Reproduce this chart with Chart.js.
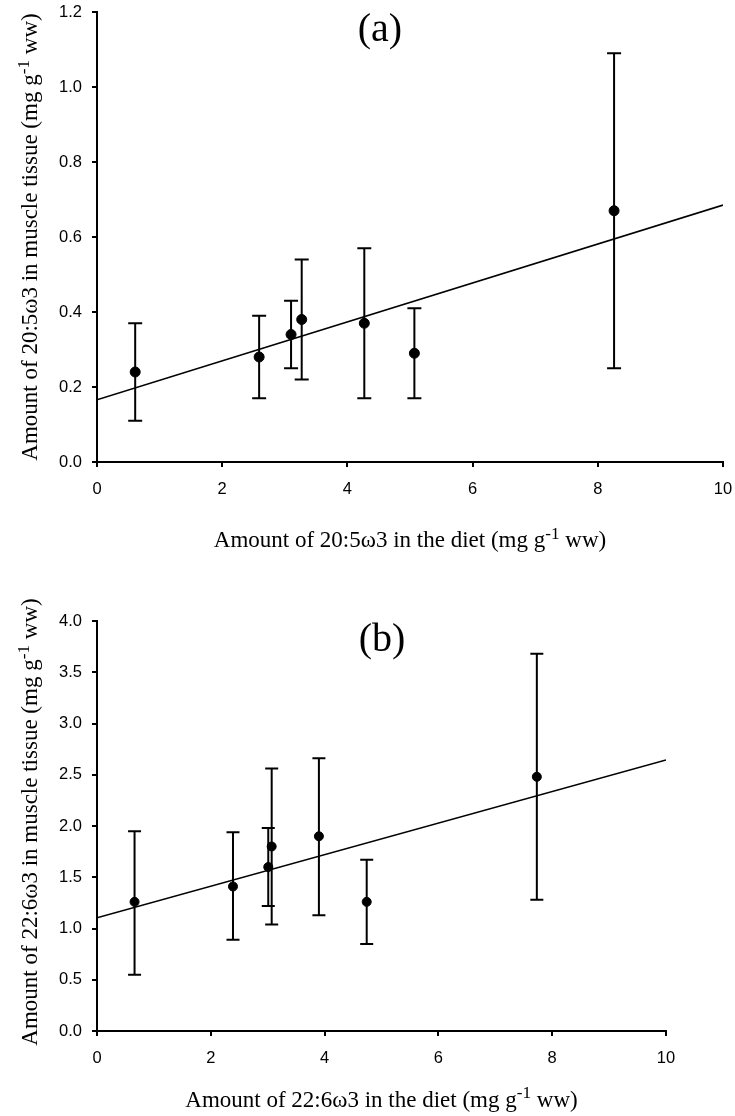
<!DOCTYPE html>
<html>
<head>
<meta charset="utf-8">
<script src="https://cdn.jsdelivr.net/npm/chart.js@4.4.0/dist/chart.umd.min.js"></script>
<style>
  body { margin: 0; background: #fff; }
  canvas { display: block; }
</style>
</head>
<body>
<canvas id="chartA" width="735" height="560"></canvas>
<canvas id="chartB" width="735" height="556"></canvas>
<script>
// Panel (a): 20:5w3 diet vs muscle tissue
const epaDiet   = [0.61, 2.59, 3.10, 3.27, 4.27, 5.07, 8.26];
const epaMuscle = [0.24, 0.28, 0.34, 0.38, 0.37, 0.29, 0.67];
const epaLow    = [0.11, 0.17, 0.25, 0.22, 0.17, 0.17, 0.25];
const epaHigh   = [0.37, 0.39, 0.43, 0.54, 0.57, 0.41, 1.09];
const epaFitX   = [0, 10];
const epaFitY   = [0.166, 0.685];

// Panel (b): 22:6w3 diet vs muscle tissue
const dhaDiet   = [0.66, 2.39, 3.01, 3.07, 3.90, 4.74, 7.73];
const dhaMuscle = [1.26, 1.41, 1.60, 1.80, 1.90, 1.26, 2.48];
const dhaLow    = [0.55, 0.89, 1.22, 1.04, 1.13, 0.85, 1.28];
const dhaHigh   = [1.95, 1.94, 1.98, 2.56, 2.66, 1.67, 3.68];
const dhaFitX   = [0, 10];
const dhaFitY   = [1.105, 2.644];

const tickFont = { family: '"Liberation Sans", Arial, sans-serif', size: 16.5 };
const serif = '"Liberation Serif", "Times New Roman", serif';

// draws vertical error bars with caps from the lo/hi arrays
const errorBarPlugin = {
    id: 'errorBars',
    beforeDatasetsDraw(chart, args, opts) {
        const { ctx, scales: { x, y } } = chart;
        ctx.save();
        ctx.strokeStyle = '#000';
        ctx.lineWidth = 2;
        opts.xs.forEach((xv, i) => {
            const px = x.getPixelForValue(xv);
            const top = y.getPixelForValue(opts.hi[i]);
            const bot = y.getPixelForValue(opts.lo[i]);
            ctx.beginPath();
            ctx.moveTo(px, top); ctx.lineTo(px, bot);
            ctx.moveTo(px - opts.cap, top); ctx.lineTo(px + opts.cap, top);
            ctx.moveTo(px - opts.cap, bot); ctx.lineTo(px + opts.cap, bot);
            ctx.stroke();
        });
        ctx.restore();
    }
};

// panel letter placed in data space
const panelLabelPlugin = {
    id: 'panelLabel',
    afterDraw(chart, args, opts) {
        const { ctx, scales: { x, y } } = chart;
        ctx.save();
        ctx.fillStyle = '#000';
        ctx.font = '40px ' + serif;
        ctx.textAlign = 'center';
        ctx.textBaseline = 'middle';
        ctx.fillText(opts.text, x.getPixelForValue(opts.x), y.getPixelForValue(opts.y));
        ctx.restore();
    }
};

// axis titles with a real superscript "-1"
function drawRich(ctx, parts, size) {
    const supSize = size * 0.75;
    let total = 0;
    parts.forEach(p => {
        ctx.font = (p.sup ? supSize : size) + 'px ' + serif;
        total += ctx.measureText(p.t).width;
    });
    let cx = -total / 2;
    parts.forEach(p => {
        ctx.font = (p.sup ? supSize : size) + 'px ' + serif;
        ctx.fillText(p.t, cx, p.sup ? -size * 0.36 : 0);
        cx += ctx.measureText(p.t).width;
    });
}

const axisTitlePlugin = {
    id: 'axisTitles',
    afterDraw(chart, args, opts) {
        const { ctx, chartArea, height } = chart;
        ctx.save();
        ctx.fillStyle = '#000';
        ctx.textAlign = 'left';
        ctx.textBaseline = 'alphabetic';
        ctx.save();
        ctx.translate((chartArea.left + chartArea.right) / 2, height - opts.xBaseFromBottom);
        drawRich(ctx, opts.x, opts.size);
        ctx.restore();
        ctx.save();
        ctx.translate(opts.yBaseX, (chartArea.top + chartArea.bottom) / 2 + opts.yShift);
        ctx.rotate(-Math.PI / 2);
        drawRich(ctx, opts.y, opts.size);
        ctx.restore();
        ctx.restore();
    }
};

function makePanel(id, cfg) {
    const pts = cfg.xs.map((v, i) => ({ x: v, y: cfg.ys[i] }));
    const fit = cfg.fitX.map((v, i) => ({ x: v, y: cfg.fitY[i] }));
    return new Chart(document.getElementById(id), {
        type: 'scatter',
        data: {
            datasets: [
                {
                    data: pts,
                    backgroundColor: '#000',
                    borderColor: '#000',
                    pointRadius: cfg.radius,
                    pointHoverRadius: cfg.radius
                },
                {
                    type: 'line',
                    data: fit,
                    borderColor: '#000',
                    borderWidth: 1.6,
                    pointRadius: 0,
                    fill: false
                }
            ]
        },
        plugins: [errorBarPlugin, panelLabelPlugin, axisTitlePlugin],
        options: {
            responsive: false,
            animation: false,
            layout: { padding: cfg.padding, autoPadding: false },
            scales: {
                x: {
                    type: 'linear',
                    min: 0, max: 10,
                    afterFit: s => {
                        s.height = cfg.xAxisHeight;
                        s.paddingLeft = 0;
                        s.paddingRight = 0;
                    },
                    ticks: { stepSize: 2, color: '#000', font: tickFont, padding: 13 },
                    grid: { drawOnChartArea: false, drawTicks: true, tickLength: 5, color: '#000', lineWidth: 2 },
                    border: { display: true, color: '#000', width: 2 }
                },
                y: {
                    type: 'linear',
                    min: 0, max: cfg.yMax,
                    afterFit: s => {
                        s.width = 97;
                        s.paddingTop = 0;
                        s.paddingBottom = 0;
                    },
                    ticks: { stepSize: cfg.yStep, color: '#000', font: tickFont, padding: 10,
                             callback: v => v.toFixed(1) },
                    grid: { drawOnChartArea: false, drawTicks: true, tickLength: 5, color: '#000', lineWidth: 2 },
                    border: { display: true, color: '#000', width: 2 }
                }
            },
            plugins: {
                legend: { display: false },
                tooltip: { enabled: false },
                errorBars: { xs: cfg.xs, lo: cfg.lo, hi: cfg.hi, cap: cfg.cap },
                panelLabel: { text: cfg.label, x: cfg.labelX, y: cfg.labelY },
                axisTitles: { x: cfg.xTitle, y: cfg.yTitle, size: 23,
                              xBaseFromBottom: cfg.xBaseFromBottom, yBaseX: 37, yShift: cfg.yShift }
            }
        }
    });
}

makePanel('chartA', {
    xs: epaDiet, ys: epaMuscle, lo: epaLow, hi: epaHigh, fitX: epaFitX, fitY: epaFitY,
    yMax: 1.2, yStep: 0.2, radius: 5, cap: 7,
    padding: { top: 12, right: 12, left: 0, bottom: 0 }, xAxisHeight: 98,
    xBaseFromBottom: 13, yShift: 0,
    xTitle: [{ t: 'Amount of 20:5ω3 in the diet (mg g' }, { t: '-1', sup: true }, { t: ' ww)' }],
    yTitle: [{ t: 'Amount of 20:5ω3 in muscle tissue (mg g' }, { t: '-1', sup: true }, { t: ' ww)' }],
    label: '(a)', labelX: 4.52, labelY: 1.152
});

makePanel('chartB', {
    xs: dhaDiet, ys: dhaMuscle, lo: dhaLow, hi: dhaHigh, fitX: dhaFitX, fitY: dhaFitY,
    yMax: 4.0, yStep: 0.5, radius: 4.5, cap: 6.5,
    padding: { top: 61, right: 69, left: 0, bottom: 0 }, xAxisHeight: 85,
    xBaseFromBottom: 9.5, yShift: -4,
    xTitle: [{ t: 'Amount of 22:6ω3 in the diet (mg g' }, { t: '-1', sup: true }, { t: ' ww)' }],
    yTitle: [{ t: 'Amount of 22:6ω3 in muscle tissue (mg g' }, { t: '-1', sup: true }, { t: ' ww)' }],
    label: '(b)', labelX: 5.01, labelY: 3.81
});
</script>
</body>
</html>
